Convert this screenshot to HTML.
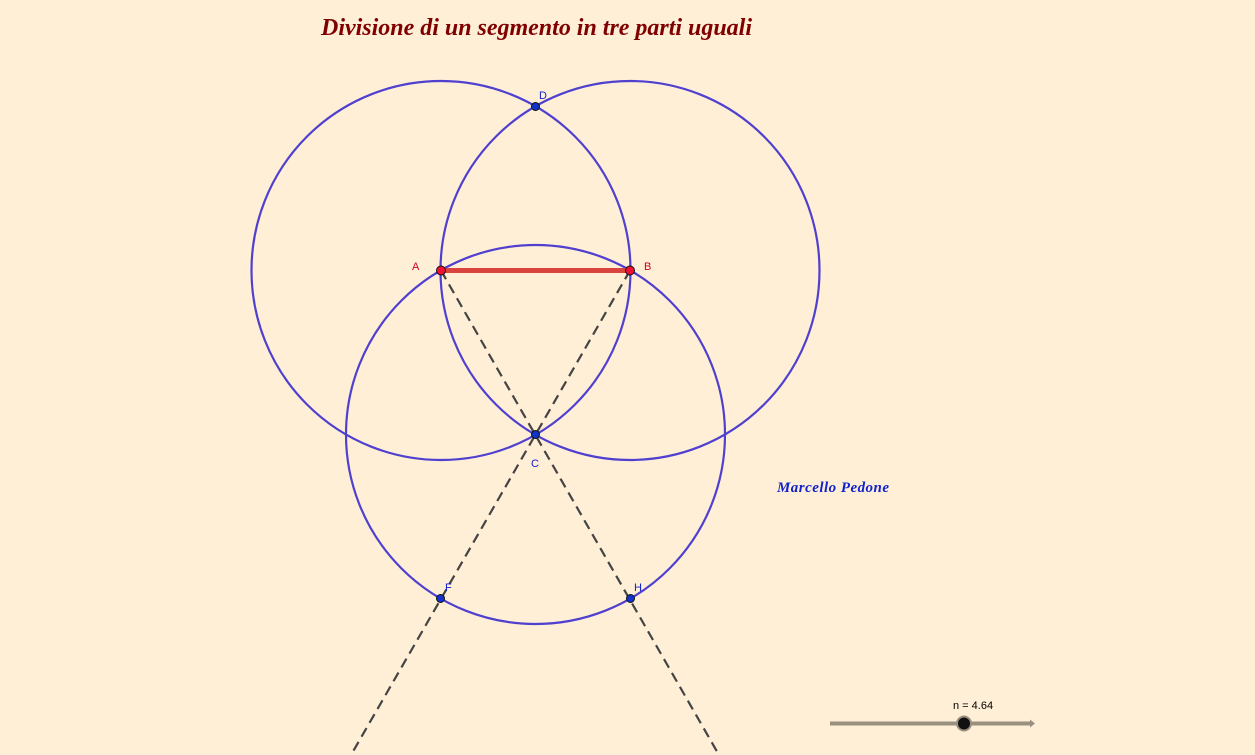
<!DOCTYPE html>
<html><head><meta charset="utf-8"><style>
html,body{margin:0;padding:0;background:#FFEFD6;}
svg{display:block}
</style></head><body>
<svg width="1255" height="755" viewBox="0 0 1255 755" xmlns="http://www.w3.org/2000/svg">
<rect width="1255" height="755" fill="#FFEFD6"/>
<text x="321" y="35" font-family="Liberation Serif, serif" font-size="24" font-weight="bold" font-style="italic" fill="#800000" textLength="431">Divisione di un segmento in tre parti uguali</text>
<g fill="none" stroke="#4F40D0" stroke-width="2.2">
<circle cx="441" cy="270.5" r="189.5"/>
<circle cx="630" cy="270.5" r="189.5"/>
<circle cx="535.5" cy="434.5" r="189.5"/>
</g>
<g stroke="#444" stroke-width="2.2" stroke-dasharray="10,6" fill="none">
<line x1="441" y1="270.5" x2="719" y2="755"/>
<line x1="630" y1="270.5" x2="351" y2="755"/>
</g>
<line x1="441" y1="270.5" x2="630" y2="270.5" stroke="#D9443F" stroke-width="5"/>
<g stroke="#111" stroke-width="1">
<circle cx="441" cy="270.5" r="4.5" fill="#EE1133"/>
<circle cx="630" cy="270.5" r="4.5" fill="#EE1133"/>
<circle cx="535.5" cy="106.5" r="4" fill="#1133CC"/>
<circle cx="535.5" cy="434.5" r="4" fill="#1133CC"/>
<circle cx="440.5" cy="598.5" r="4" fill="#1133CC"/>
<circle cx="630.5" cy="598.5" r="4" fill="#1133CC"/>
</g>
<g font-family="Liberation Sans, sans-serif" font-size="11">
<text x="412" y="270" fill="#D00020">A</text>
<text x="644" y="270" fill="#D00020">B</text>
<text x="539" y="99" fill="#1122CC">D</text>
<text x="531" y="467" fill="#1122CC">C</text>
<text x="445" y="591" fill="#1122CC">F</text>
<text x="634" y="591" fill="#1122CC">H</text>
</g>
<text x="777" y="492" font-family="Liberation Serif, serif" font-size="15" font-weight="bold" font-style="italic" fill="#1122CC" textLength="112">Marcello Pedone</text>
<line x1="830" y1="723.5" x2="1031" y2="723.5" stroke="#9A9080" stroke-width="4"/>
<polygon points="1030,719.5 1035,723.5 1030,727.5" fill="#9A9080"/>
<circle cx="964" cy="723.5" r="8" fill="#9A9080"/>
<circle cx="964" cy="723.5" r="6" fill="#111"/>
<text x="953" y="709" font-family="Liberation Sans, sans-serif" font-size="11" fill="#000">n = 4.64</text>
</svg>
</body></html>
